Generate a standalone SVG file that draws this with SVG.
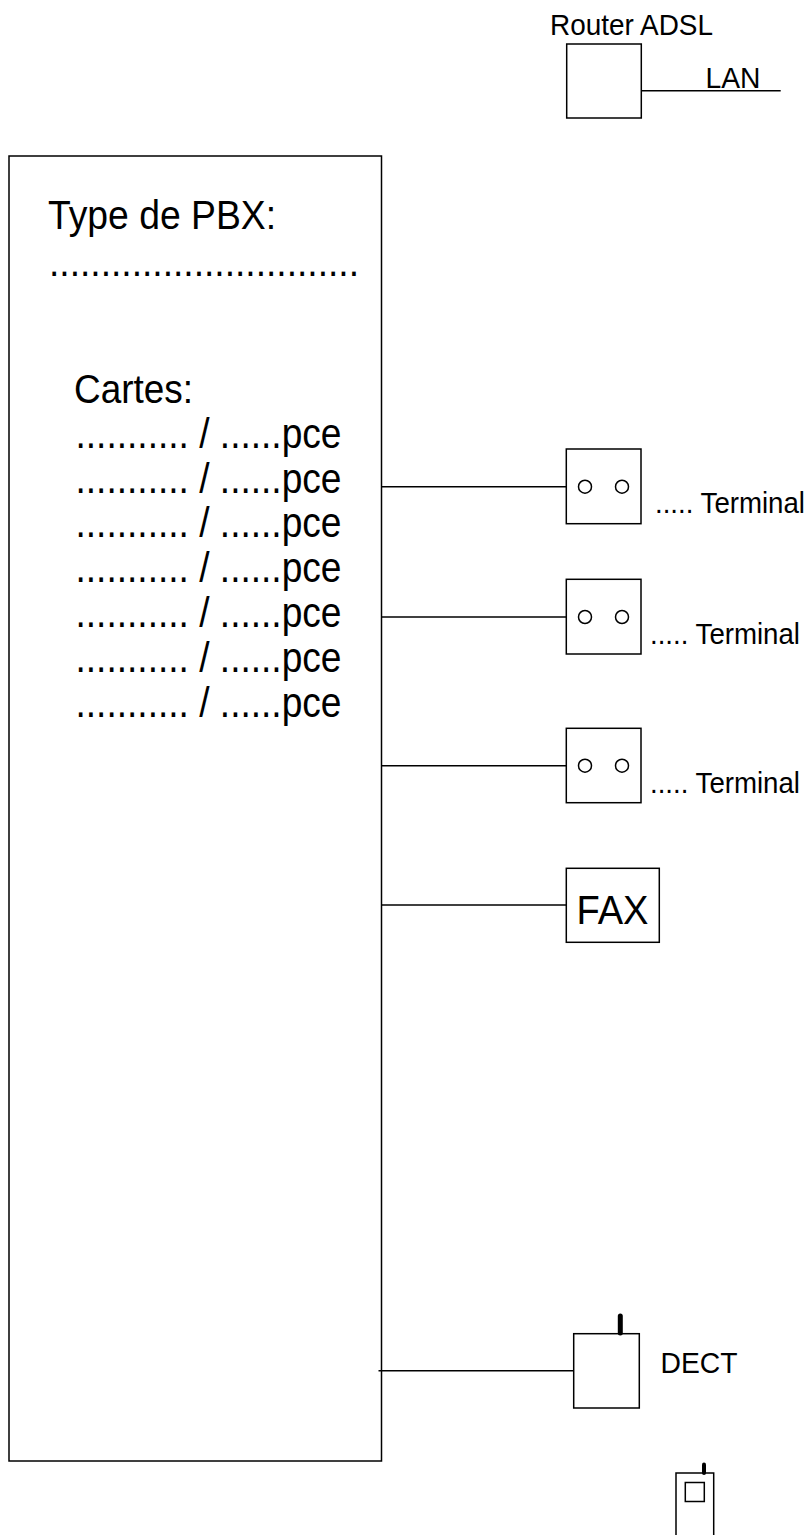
<svg xmlns="http://www.w3.org/2000/svg" width="811" height="1535" viewBox="0 0 811 1535">
<style>
.s{fill:#fff;stroke:#000;stroke-width:1.5}
.c{fill:none;stroke:#000;stroke-width:1.5}
.a{fill:none;stroke:#000;stroke-width:5;stroke-linecap:round}
text{font-family:"Liberation Sans",Arial,sans-serif;fill:#000}
.t1{font-size:29px}
.t2{font-size:40px}
.t3{font-size:42px}
</style>
<rect width="811" height="1535" fill="#fff"/>
<g id="router">
<rect class="s" x="566.7" y="44" width="74.6" height="74"/>
<text class="t1" x="550" y="34.7" textLength="163" lengthAdjust="spacingAndGlyphs">Router ADSL</text>
<text class="t1" x="705.5" y="88" textLength="55" lengthAdjust="spacingAndGlyphs">LAN</text>
</g>
<g id="pbx">
<rect class="s" x="9" y="156" width="372.5" height="1305"/>
<text class="t2" x="48" y="229.3" textLength="228" lengthAdjust="spacingAndGlyphs">Type de PBX:</text>
<text class="t2" x="49" y="275.5" textLength="310" lengthAdjust="spacingAndGlyphs">..............................</text>
<text class="t2" x="74" y="403" textLength="119" lengthAdjust="spacingAndGlyphs">Cartes:</text>
<text class="t3" x="75.5" y="448.3" textLength="266" lengthAdjust="spacingAndGlyphs">........... / ......pce</text>
<text class="t3" x="75.5" y="492.5" textLength="266" lengthAdjust="spacingAndGlyphs">........... / ......pce</text>
<text class="t3" x="75.5" y="537.3" textLength="266" lengthAdjust="spacingAndGlyphs">........... / ......pce</text>
<text class="t3" x="75.5" y="582" textLength="266" lengthAdjust="spacingAndGlyphs">........... / ......pce</text>
<text class="t3" x="75.5" y="626.7" textLength="266" lengthAdjust="spacingAndGlyphs">........... / ......pce</text>
<text class="t3" x="75.5" y="671.5" textLength="266" lengthAdjust="spacingAndGlyphs">........... / ......pce</text>
<text class="t3" x="75.5" y="716.5" textLength="266" lengthAdjust="spacingAndGlyphs">........... / ......pce</text>
</g>
<g id="terminal1">
<rect class="s" x="566.3" y="449" width="74.7" height="74.7"/>
<circle class="c" cx="585" cy="486.7" r="6.5"/><circle class="c" cx="622" cy="486.7" r="6.5"/>
<text class="t1" x="655" y="512.7" textLength="150" lengthAdjust="spacingAndGlyphs">..... Terminal</text>
</g>
<g id="terminal2">
<rect class="s" x="566.3" y="579.3" width="74.7" height="74.7"/>
<circle class="c" cx="585" cy="617" r="6.5"/><circle class="c" cx="622" cy="617" r="6.5"/>
<text class="t1" x="650" y="643.5" textLength="150" lengthAdjust="spacingAndGlyphs">..... Terminal</text>
</g>
<g id="terminal3">
<rect class="s" x="566.3" y="728.3" width="74.7" height="74.4"/>
<circle class="c" cx="585" cy="765.7" r="6.5"/><circle class="c" cx="622" cy="765.7" r="6.5"/>
<text class="t1" x="650" y="793" textLength="150" lengthAdjust="spacingAndGlyphs">..... Terminal</text>
</g>
<g id="fax">
<rect class="s" x="566.3" y="868.3" width="93" height="74"/>
<text class="t2" x="576.5" y="923.5" textLength="72" lengthAdjust="spacingAndGlyphs">FAX</text>
</g>
<g id="dect">
<rect class="s" x="573.7" y="1333.7" width="65.6" height="74.3"/>
<path class="a" d="M620.3 1316V1333"/>
<text class="t1" x="660.5" y="1373" textLength="77" lengthAdjust="spacingAndGlyphs">DECT</text>
</g>
<g id="handset">
<path class="c" d="M676 1535V1473H713.7V1535"/>
<rect class="c" x="685.3" y="1482.5" width="19" height="19"/>
<path class="a" style="stroke-width:4" d="M704 1464.5V1473"/>
</g>
<g id="connectors">
<path class="c" d="M641.3 90.7H780.7"/>
<path class="c" d="M381.5 486.7H566.3"/>
<path class="c" d="M381.5 617H566.3"/>
<path class="c" d="M381.5 765.7H566.3"/>
<path class="c" d="M381.5 905H566.3"/>
<path class="c" d="M378.5 1370.7H573.7"/>
</g>
</svg>
